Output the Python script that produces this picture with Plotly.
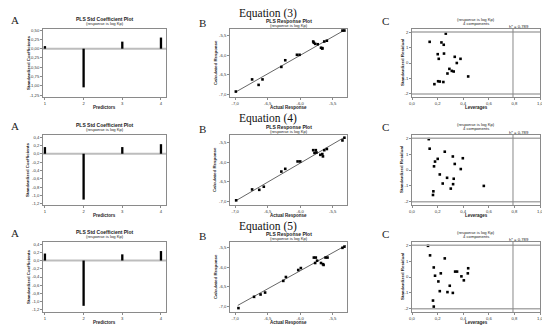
import plotly.graph_objects as go

# Browser page adds an 8px body margin; the figure is sized to fit inside the window.
PAGE_OFF = 8
W, H = 550 - PAGE_OFF, 329 - PAGE_OFF

# ---------------- data ----------------
predictors = [1, 2, 3, 4]
coef_eq3 = [0.07, -1.04, 0.19, 0.30]
coef_eq4 = [0.16, -1.10, 0.16, 0.23]
coef_eq5 = [0.17, -1.10, 0.15, 0.23]

actual_eq3 = [-6.99, -6.74, -6.64, -6.58, -6.29, -6.23, -6.05, -6.01, -5.80, -5.77,
              -5.73, -5.68, -5.66, -5.63, -5.59, -5.35, -5.32, -5.79, -5.66]
calc_eq3 = [-6.93, -6.62, -6.76, -6.62, -6.30, -6.13, -5.99, -5.99, -5.65, -5.71,
            -5.72, -5.81, -5.83, -5.65, -5.63, -5.37, -5.37, -5.68, -5.82]

actual_eq4 = [-6.985, -6.74, -6.63, -6.56, -6.29, -6.23, -6.04, -6.00, -5.80, -5.76,
              -5.78, -5.75, -5.69, -5.66, -5.65, -5.63, -5.59, -5.35, -5.32]
calc_eq4 = [-6.98, -6.70, -6.71, -6.63, -6.24, -6.17, -5.98, -5.98, -5.69, -5.69,
            -5.76, -5.75, -5.81, -5.79, -5.85, -5.69, -5.66, -5.44, -5.37]

actual_eq5 = [-6.95, -6.71, -6.61, -6.54, -6.26, -6.22, -6.03, -5.99, -5.79, -5.76,
              -5.77, -5.74, -5.68, -5.65, -5.64, -5.61, -5.58, -5.35, -5.32]
calc_eq5 = [-7.05, -6.76, -6.70, -6.65, -6.35, -6.25, -6.07, -6.02, -5.75, -5.75,
            -5.89, -5.83, -5.89, -5.92, -5.94, -5.75, -5.75, -5.50, -5.47]

fit_x_eq3 = [-7.0, -5.31]
fit_y_eq3 = [-6.95, -5.35]
fit_x_eq4 = [-7.0, -5.31]
fit_y_eq4 = [-7.0, -5.35]
fit_x_eq5 = [-6.96, -5.30]
fit_y_eq5 = [-6.98, -5.44]

lev_eq3 = [0.138, 0.264, 0.230, 0.248, 0.201, 0.209, 0.250, 0.334, 0.379, 0.350,
           0.292, 0.311, 0.326, 0.277, 0.439, 0.204, 0.217, 0.245, 0.175]
res_eq3 = [1.37, 1.90, 1.33, 1.18, 0.57, 0.27, 0.61, 0.40, 0.27, 0.00,
           -0.38, -0.51, -0.55, -0.68, -0.87, -1.18, -1.20, -1.23, -1.37]

lev_eq4 = [0.131, 0.138, 0.180, 0.201, 0.172, 0.256, 0.319, 0.334, 0.397, 0.381,
           0.217, 0.274, 0.326, 0.240, 0.321, 0.303, 0.167, 0.164, 0.561]
res_eq4 = [1.94, 1.34, 0.53, 0.70, 0.23, 1.15, 0.85, 0.38, 0.74, 0.06,
           -0.28, -0.49, -0.55, -0.85, -0.89, -1.17, -1.34, -1.57, -1.00]

lev_eq5 = [0.125, 0.141, 0.170, 0.256, 0.180, 0.225, 0.206, 0.295, 0.217, 0.277,
           0.319, 0.337, 0.352, 0.386, 0.405, 0.439, 0.436, 0.164, 0.170]
res_eq5 = [1.96, 1.36, 0.60, 1.17, 0.08, 0.23, -0.28, -0.55, -0.89, -0.95,
           -1.00, 0.34, 0.34, 0.04, -0.21, 0.55, 0.23, -1.48, -1.86]

h_star = 0.789

equations = ["Equation (3)", "Equation (4)", "Equation (5)"]

coef_ticks_eq3 = [0.50, 0.25, 0.00, -0.25, -0.50, -0.75, -1.00, -1.25]
coef_text_eq3 = ["0,50", "0,25", "0,00", "-0,25", "-0,50", "-0,75", "-1,00", "-1,25"]
coef_ticks_eq45 = [0.4, 0.2, 0.0, -0.2, -0.4, -0.6, -0.8, -1.0, -1.2]
coef_text_eq45 = ["0,4", "0,2", "0,0", "-0,2", "-0,4", "-0,6", "-0,8", "-1,0", "-1,2"]
resp_ticks = [-7.0, -6.5, -6.0, -5.5]
resp_text = ["-7,0", "-6,5", "-6,0", "-5,5"]
lev_ticks = [0.0, 0.2, 0.4, 0.6, 0.8, 1.0]
lev_text = ["0,0", "0,2", "0,4", "0,6", "0,8", "1,0"]
res_ticks = [-2, -1, 0, 1, 2]
res_text = ["-2", "-1", "0", "1", "2"]

# ---------------- layout helpers (reference pixel -> paper coords) ----------------
def fx(p):
    return (p - PAGE_OFF) / W

def fy(p):
    return 1 - (p - PAGE_OFF) / H

row_top = [29, 135, 242]
row_bot = [97, 205, 312]
col_l = [43, 230, 412]
col_r = [166, 347, 540]

coef_sets = [coef_eq3, coef_eq4, coef_eq5]
coef_ranges = [[-1.30, 0.53], [-1.23, 0.45], [-1.25, 0.45]]
coef_tick_sets = [(coef_ticks_eq3, coef_text_eq3), (coef_ticks_eq45, coef_text_eq45),
                  (coef_ticks_eq45, coef_text_eq45)]
resp_sets = [(actual_eq3, calc_eq3, fit_x_eq3, fit_y_eq3),
             (actual_eq4, calc_eq4, fit_x_eq4, fit_y_eq4),
             (actual_eq5, calc_eq5, fit_x_eq5, fit_y_eq5)]
resp_yranges = [[-7.07, -5.33], [-7.1, -5.3], [-7.15, -5.35]]
lev_sets = [(lev_eq3, res_eq3), (lev_eq4, res_eq4), (lev_eq5, res_eq5)]

SANS = "Liberation Sans, Arial, sans-serif"
SERIF = "Liberation Serif, Times New Roman, serif"
FRAME = "#8a8a8a"
TICKF = dict(family=SANS, size=4.2, color="#333")

fig = go.Figure()
layout = dict(width=W, height=H, margin=dict(l=0, r=0, t=0, b=0),
              paper_bgcolor="white", plot_bgcolor="white", showlegend=False)
annotations = []
shapes = []

def axis_common(dom, rng, tv, tt):
    return dict(domain=dom, range=rng, tickvals=tv, ticktext=tt, showgrid=False,
                zeroline=False, showline=True, mirror=True, linecolor=FRAME, linewidth=0.8,
                ticks="outside", ticklen=2, tickcolor=FRAME, tickwidth=0.8,
                tickfont=TICKF, automargin=False, fixedrange=True)

def ann(text, x, y, size, family=SANS, bold=False, angle=0, color="#222", xanchor="center"):
    t = "<b>" + text + "</b>" if bold else text
    annotations.append(dict(text=t, x=fx(x), y=fy(y), xref="paper", yref="paper",
                            showarrow=False, font=dict(family=family, size=size, color=color),
                            textangle=angle, xanchor=xanchor, yanchor="middle", borderpad=0))

idx = 0
for r in range(3):
    top, bot = row_top[r], row_bot[r]
    ydom = [fy(bot), fy(top)]
    for c in range(3):
        idx += 1
        xname = "xaxis" if idx == 1 else f"xaxis{idx}"
        yname = "yaxis" if idx == 1 else f"yaxis{idx}"
        xref = "x" if idx == 1 else f"x{idx}"
        yref = "y" if idx == 1 else f"y{idx}"
        xdom = [fx(col_l[c]), fx(col_r[c])]
        cx = (col_l[c] + col_r[c]) / 2
        if c == 0:
            tv, tt = coef_tick_sets[r]
            layout[xname] = axis_common(xdom, [0.95, 4.13], predictors, [str(p) for p in predictors])
            layout[xname]["anchor"] = yref
            layout[yname] = axis_common(ydom, coef_ranges[r], tv, tt)
            layout[yname]["anchor"] = xref
            shapes.append(dict(type="line", xref=f"{xref} domain", yref=yref, x0=0, x1=1,
                               y0=0, y1=0, line=dict(color="#bdbdbd", width=2), layer="below"))
            fig.add_trace(go.Bar(x=predictors, y=coef_sets[r], width=0.06,
                                 marker=dict(color="black", line=dict(width=0)),
                                 xaxis=xref, yaxis=yref))
            ann("PLS Std Coefficient Plot", cx, top - 10, 5, bold=True)
            ann("(response is log Kp)", cx, top - 5.5, 4.2)
            ann("Predictors", cx, bot + 10.5, 4.5, bold=True)
            ann("Standardized Coefficients", col_l[c] - 15, (top + bot) / 2, 4.4, bold=True, angle=-90)
            ann("A", 9.5, top - 9, 11, family=SERIF, xanchor="left")
        elif c == 1:
            ax, cy, fxs, fys = resp_sets[r]
            layout[xname] = axis_common(xdom, [-7.08, -5.28], resp_ticks, resp_text)
            layout[xname]["anchor"] = yref
            layout[yname] = axis_common(ydom, resp_yranges[r], resp_ticks, resp_text)
            layout[yname]["anchor"] = xref
            fig.add_trace(go.Scatter(x=fxs, y=fys, mode="lines",
                                     line=dict(color="#555", width=0.9),
                                     xaxis=xref, yaxis=yref))
            fig.add_trace(go.Scatter(x=ax, y=cy, mode="markers",
                                     marker=dict(color="black", size=2.6, symbol="square"),
                                     xaxis=xref, yaxis=yref))
            ann("PLS Response Plot", cx, top - 8, 5, bold=True)
            ann("(response is log Kp)", cx, top - 3.5, 4.2)
            ann("Actual Response", cx, bot + 10.5, 4.5, bold=True)
            ann("Calculated Response", col_l[c] - 15, (top + bot) / 2, 4.4, bold=True, angle=-90)
            ann("B", 202, top - 6, 11, family=SERIF)
            ann(equations[r], 268, top - 16, 11.5, family=SERIF, color="#111")
        else:
            lv, rs = lev_sets[r]
            layout[xname] = axis_common(xdom, [0.0, 1.0], lev_ticks, lev_text)
            layout[xname]["anchor"] = yref
            layout[yname] = axis_common(ydom, [-2.2, 2.2], res_ticks, res_text)
            layout[yname]["anchor"] = xref
            for yv in (2, -2):
                shapes.append(dict(type="line", xref=f"{xref} domain", yref=yref, x0=0, x1=1,
                                   y0=yv, y1=yv, line=dict(color="#aaaaaa", width=1.5)))
            shapes.append(dict(type="line", xref=xref, yref=f"{yref} domain", x0=h_star,
                               x1=h_star, y0=0, y1=1, line=dict(color="#888", width=1)))
            fig.add_trace(go.Scatter(x=lv, y=rs, mode="markers",
                                     marker=dict(color="black", size=2.6, symbol="square"),
                                     xaxis=xref, yaxis=yref))
            ann("(response is log Kp)", cx, top - 10, 4.2)
            ann("4 components", cx, top - 6, 4.2)
            ann("h* = 0,789", col_l[c] + h_star * (col_r[c] - col_l[c]) + 6, top - 3, 4.2)
            ann("Leverages", cx, bot + 10.5, 4.5, bold=True)
            ann("Standardized Residual", col_l[c] - 10, (top + bot) / 2, 4.4, bold=True, angle=-90)
            ann("C", 385, top - 8, 11, family=SERIF)

layout["annotations"] = annotations
layout["shapes"] = shapes
fig.update_layout(**layout)
fig.write_html("out.html")
